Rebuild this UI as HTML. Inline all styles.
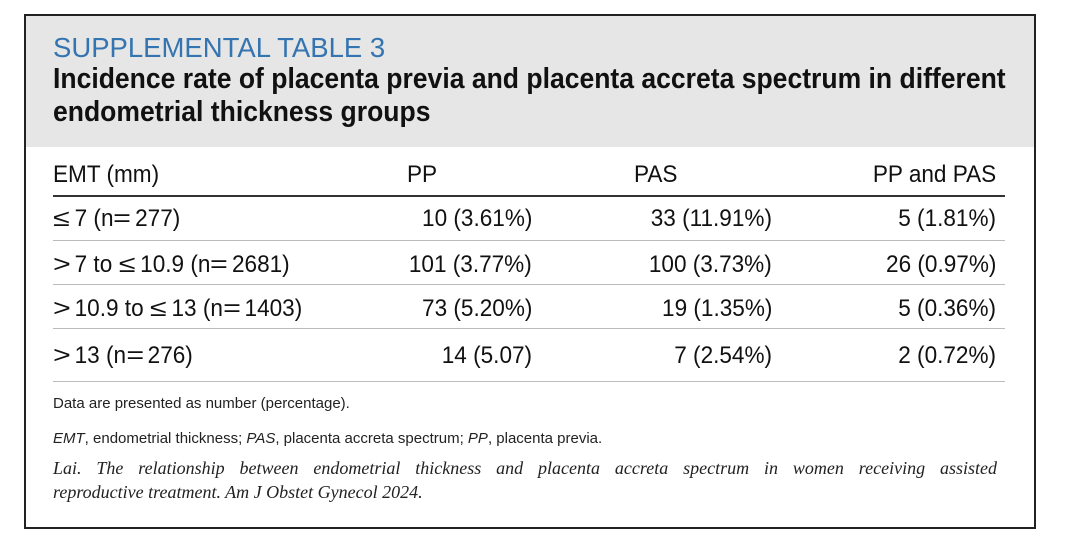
<!DOCTYPE html>
<html><head><meta charset="utf-8"><style>
body{margin:0;width:1080px;height:546px;background:#fff;position:relative;overflow:hidden;font-family:"Liberation Sans",sans-serif;color:#111}
.box{position:absolute;left:24px;top:14px;width:1008px;height:511px;border:2px solid #222;box-sizing:content-box}
.hd{position:absolute;left:26px;top:16px;width:1008px;height:131px;background:#e6e6e6}
.t{position:absolute;white-space:nowrap;line-height:1}
.c{transform:scaleX(0.94);transform-origin:left center}
.r{transform:scaleX(0.94);transform-origin:right center;text-align:right}
.tt{transform:scaleX(0.915);transform-origin:left center}
.m{display:inline-block;width:23px;text-align:left;transform:scaleX(1.35);transform-origin:left center}
.line{position:absolute;left:53px;width:952px;height:1px;background:#bbb}
.sm{font-size:15px;color:#222}
.it{font-family:"Liberation Serif",serif;font-style:italic;font-size:18px;color:#222}
</style></head><body>
<div class="hd"></div>
<div class="box"></div>
<div class="t" style="left:53px;top:34px;font-size:27.5px;color:#3474b0">SUPPLEMENTAL TABLE 3</div>
<div class="t tt" style="left:53px;top:65px;font-size:29px;font-weight:bold">Incidence rate of placenta previa and placenta accreta spectrum in different</div>
<div class="t tt" style="left:53px;top:98px;font-size:29px;font-weight:bold">endometrial thickness groups</div>

<div class="t c" style="left:53px;top:163px;font-size:24px">EMT (mm)</div>
<div class="t c" style="left:407px;top:163px;font-size:24px">PP</div>
<div class="t c" style="left:634px;top:163px;font-size:24px">PAS</div>
<div class="t r" style="right:84px;top:163px;font-size:24px">PP and PAS</div>
<div class="line" style="top:195px;height:2px;background:#333"></div>

<div class="t c" style="left:53px;top:207px;font-size:24px"><span class="m">≤</span>7 (n<span class="m">=</span>277)</div>
<div class="t r" style="right:548px;top:207px;font-size:24px">10 (3.61%)</div>
<div class="t r" style="right:308px;top:207px;font-size:24px">33 (11.91%)</div>
<div class="t r" style="right:84px;top:207px;font-size:24px">5 (1.81%)</div>
<div class="line" style="top:240px"></div>

<div class="t c" style="left:53px;top:253px;font-size:24px"><span class="m">&gt;</span>7 to <span class="m">≤</span>10.9 (n<span class="m">=</span>2681)</div>
<div class="t r" style="right:548px;top:253px;font-size:24px">101 (3.77%)</div>
<div class="t r" style="right:308px;top:253px;font-size:24px">100 (3.73%)</div>
<div class="t r" style="right:84px;top:253px;font-size:24px">26 (0.97%)</div>
<div class="line" style="top:284px"></div>

<div class="t c" style="left:53px;top:297px;font-size:24px"><span class="m">&gt;</span>10.9 to <span class="m">≤</span>13 (n<span class="m">=</span>1403)</div>
<div class="t r" style="right:548px;top:297px;font-size:24px">73 (5.20%)</div>
<div class="t r" style="right:308px;top:297px;font-size:24px">19 (1.35%)</div>
<div class="t r" style="right:84px;top:297px;font-size:24px">5 (0.36%)</div>
<div class="line" style="top:328px"></div>

<div class="t c" style="left:53px;top:344px;font-size:24px"><span class="m">&gt;</span>13 (n<span class="m">=</span>276)</div>
<div class="t r" style="right:548px;top:344px;font-size:24px">14 (5.07)</div>
<div class="t r" style="right:308px;top:344px;font-size:24px">7 (2.54%)</div>
<div class="t r" style="right:84px;top:344px;font-size:24px">2 (0.72%)</div>
<div class="line" style="top:381px"></div>

<div class="t sm" style="left:53px;top:396px">Data are presented as number (percentage).</div>
<div class="t sm" style="left:53px;top:431px"><i>EMT</i>, endometrial thickness; <i>PAS</i>, placenta accreta spectrum; <i>PP</i>, placenta previa.</div>
<div class="t it" style="left:53px;top:459px;width:944px;text-align:justify;text-align-last:justify">Lai. The relationship between endometrial thickness and placenta accreta spectrum in women receiving assisted</div>
<div class="t it" style="left:53px;top:483px">reproductive treatment. Am J Obstet Gynecol 2024.</div>
</body></html>
